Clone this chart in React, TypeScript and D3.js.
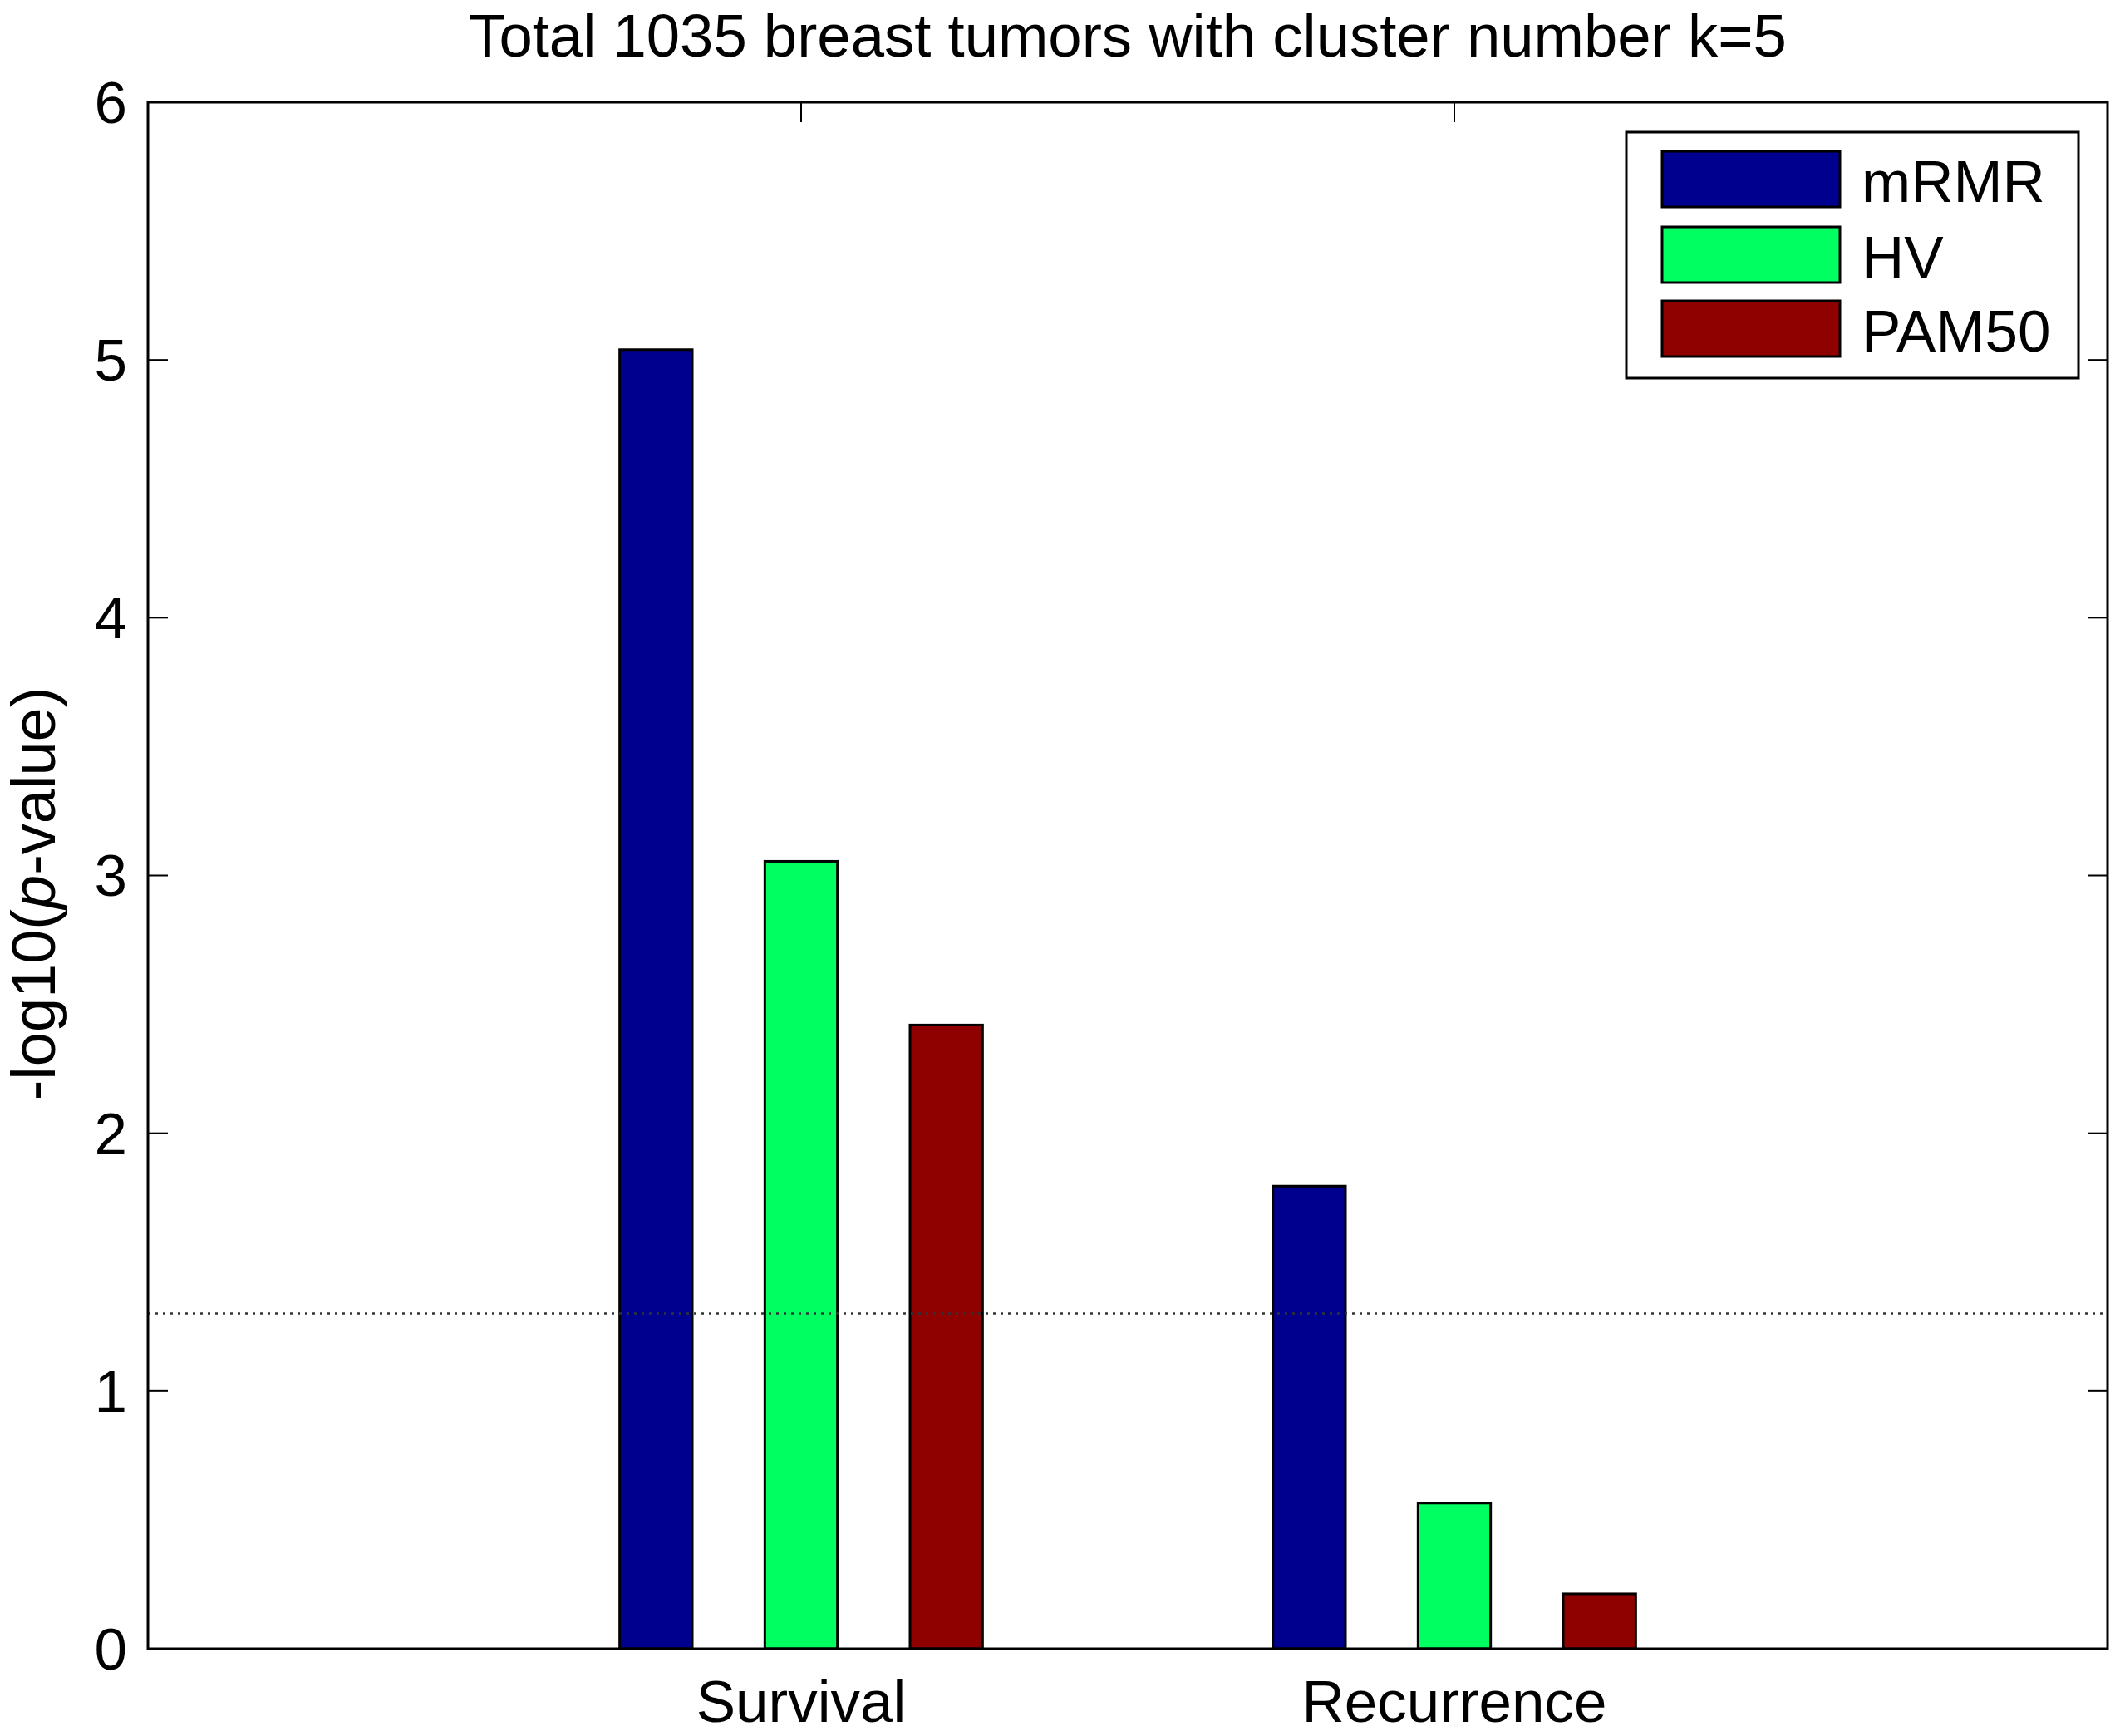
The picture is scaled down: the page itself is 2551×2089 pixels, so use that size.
import React from "react";
import * as d3 from "d3";

const categories = ["Survival", "Recurrence"];
const seriesNames = ["mRMR", "HV", "PAM50"];
const seriesColors = ["#00008F", "#00FF60", "#8F0000"];
const mRMR = [5.04, 1.795];
const HV = [3.055, 0.565];
const PAM50 = [2.42, 0.213];
const yTicks = [0, 1, 2, 3, 4, 5, 6];
const threshold = 1.301;
const title = "Total 1035 breast tumors with cluster number k=5";

const W = 2551;
const H = 2089;
const L = 178, R = 2536, T = 123, B = 1984;
const FONT = "'Liberation Sans', Arial, sans-serif";

export default function App() {
  const series = [mRMR, HV, PAM50];
  const x = d3.scaleLinear().domain([0, 3]).range([L, R]);
  const y = d3.scaleLinear().domain([0, 6]).range([B, T]);
  const n = series.length;
  const groupWidth = Math.min(0.8, n / (n + 1.5));
  const step = groupWidth / n;
  const barW = 0.5 * step;
  const tickLen = 24;

  return (
    <svg width={W} height={H} style={{ position: "absolute", left: 0, top: 0, background: "#fff" }}
      fontFamily={FONT}>
      <rect x={0} y={0} width={W} height={H} fill="#fff" />
      <text x={(L + R) / 2} y={68} textAnchor="middle" fontSize={72.5} fill="#000">{title}</text>

      {/* y ticks */}
      {yTicks.map((t) => (
        <g key={t}>
          <line x1={L} x2={L + tickLen} y1={y(t)} y2={y(t)} stroke="#000" strokeWidth={2} />
          <line x1={R - tickLen} x2={R} y1={y(t)} y2={y(t)} stroke="#000" strokeWidth={2} />
          <text x={153} y={y(t)} dy="0.35em" textAnchor="end" fontSize={71} fill="#000">{t}</text>
        </g>
      ))}

      {/* x ticks */}
      {categories.map((c, i) => (
        <g key={c}>
          <line x1={x(i + 1)} x2={x(i + 1)} y1={B} y2={B - tickLen} stroke="#000" strokeWidth={2} />
          <line x1={x(i + 1)} x2={x(i + 1)} y1={T} y2={T + tickLen} stroke="#000" strokeWidth={2} />
          <text x={x(i + 1)} y={2072} textAnchor="middle" fontSize={71} fill="#000">{c}</text>
        </g>
      ))}

      {/* bars */}
      {series.map((vals, si) =>
        vals.map((v, ci) => {
          const cx = ci + 1 + (si - (n - 1) / 2) * step;
          const x0 = x(cx - barW / 2);
          const x1 = x(cx + barW / 2);
          return (
            <rect key={`${si}-${ci}`} x={x0} y={y(v)} width={x1 - x0} height={y(0) - y(v)}
              fill={seriesColors[si]} stroke="#000" strokeWidth={3} />
          );
        })
      )}

      {/* threshold dotted line */}
      <line x1={L} x2={R} y1={y(threshold)} y2={y(threshold)} stroke="#333" strokeWidth={2.5}
        strokeDasharray="3,6" />

      {/* axes box */}
      <rect x={L} y={T} width={R - L} height={B - T} fill="none" stroke="#000" strokeWidth={3} />

      {/* y label */}
      <text transform={`translate(66, ${(T + B) / 2 + 22}) rotate(-90)`} textAnchor="middle" fontSize={74} fill="#000">
        -log10(<tspan fontStyle="italic">p</tspan>-value)
      </text>

      {/* legend */}
      <rect x={1957} y={159} width={544} height={296} fill="#fff" stroke="#000" strokeWidth={3} />
      {seriesNames.map((s, i) => {
        const tops = [182, 273, 362];
        return (
          <g key={s}>
            <rect x={2000} y={tops[i]} width={214} height={67} fill={seriesColors[i]} stroke="#000" strokeWidth={3} />
            <text x={2240} y={tops[i] + 61} fontSize={71} fill="#000">{s}</text>
          </g>
        );
      })}
    </svg>
  );
}
